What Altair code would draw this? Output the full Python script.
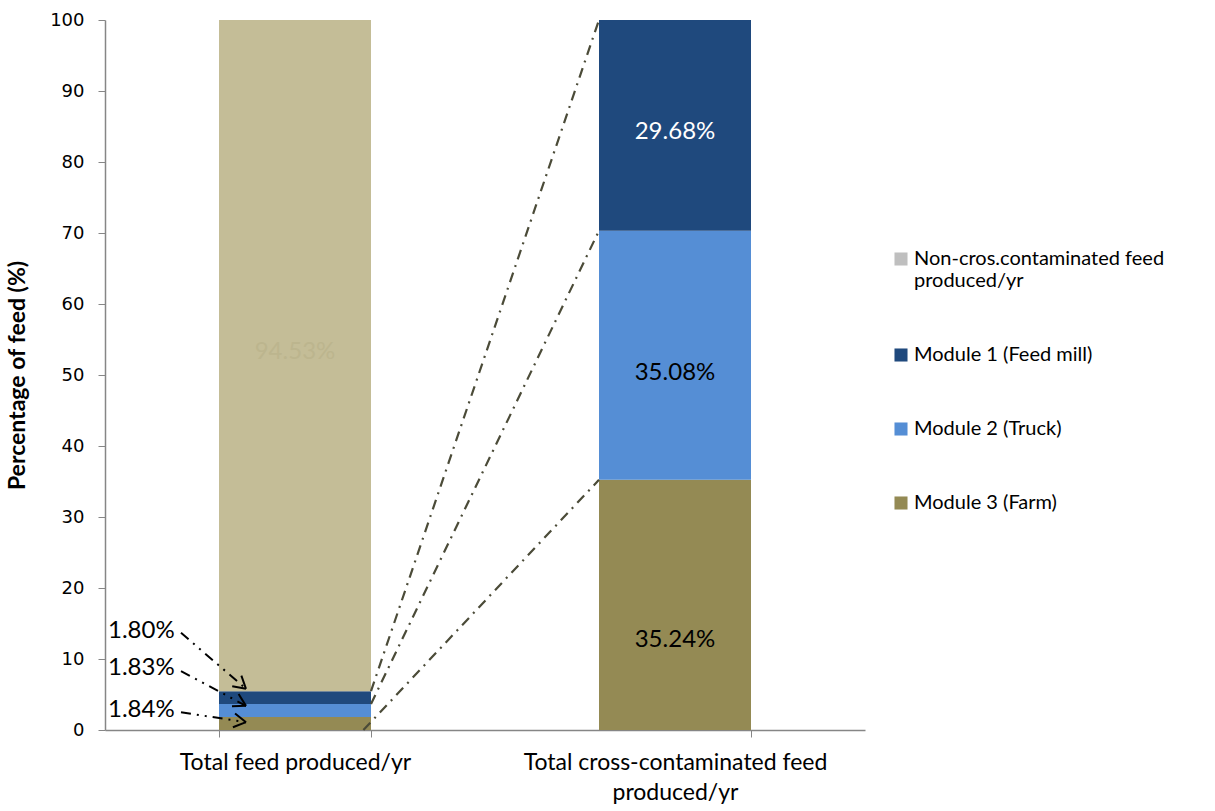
import altair as alt
import pandas as pd
import numpy as np

# ---------------- data ----------------
categories = ["Total feed produced/yr", "Total cross-contaminated feed produced/yr"]
series = ["Non-cros.contaminated feed produced/yr", "Module 1 (Feed mill)",
          "Module 2 (Truck)", "Module 3 (Farm)"]
total_feed = [94.53, 1.80, 1.83, 1.84]
cross_feed = [0.0, 29.68, 35.08, 35.24]
stack_rank = [3, 2, 1, 0]          # 0 = bottom of the stack
legend_colors = ["#BFBFBF", "#1F497D", "#558ED5", "#948A54"]
noncros_bar_color = "#C4BD97"
label_colors = ["#BCB58E", "#FFFFFF", "#000000", "#000000"]

# where the in-bar value labels sit (% units)
total_label_pos = [53.2, None, None, None]
cross_label_pos = [None, 84.2, 50.3, 12.7]

# annotations for the small left-bar segments
ann_text = ["1.80%", "1.83%", "1.84%"]
ann_text_x = [0.008, 0.008, 0.008]
ann_text_y = [13.9, 8.7, 2.8]
ann_start_x = [0.20, 0.20, 0.20]
ann_start_y = [13.7, 8.3, 2.5]
ann_tip_x = [0.371, 0.371, 0.371]
ann_tip_y = [5.8, 3.4, 1.1]

# bridge lines between the two bars
bridge_from_x = [0.68, 0.70, 0.70]
bridge_from_y = [0.0, 3.67, 5.47]
bridge_to_x = [1.30, 1.30, 1.30]
bridge_to_y = [35.24, 70.32, 100.0]

W, H = 760, 710
PX_X, PX_Y = W / 2.0, H / 100.0

# ---------------- tables ----------------
rows, label_rows = [], []
for cat, vals, lpos in zip(categories, [total_feed, cross_feed],
                           [total_label_pos, cross_label_pos]):
    base = 0.0
    for i in sorted(range(len(series)), key=lambda k: stack_rank[k]):
        v = vals[i]
        if v > 0:
            rows.append(dict(cat=cat, series=series[i], value=v, y0=base, y1=base + v))
        if lpos[i] is not None:
            label_rows.append(dict(cat=cat, pos=lpos[i], label=f"{v:.2f}%",
                                   lcolor=label_colors[i]))
        base += v
bars = pd.DataFrame(rows)
labels = pd.DataFrame(label_rows)

bridge_rows = []
for k in range(len(bridge_from_x)):
    bridge_rows.append(dict(g=k, o=0, x=bridge_from_x[k], y=bridge_from_y[k]))
    bridge_rows.append(dict(g=k, o=1, x=bridge_to_x[k], y=bridge_to_y[k]))
bridge = pd.DataFrame(bridge_rows)

leader_rows, head_rows = [], []
for k in range(len(ann_text)):
    leader_rows.append(dict(g=k, o=0, x=ann_start_x[k], y=ann_start_y[k]))
    leader_rows.append(dict(g=k, o=1, x=ann_tip_x[k], y=ann_tip_y[k]))
    dx = (ann_tip_x[k] - ann_start_x[k]) * PX_X
    dy = (ann_tip_y[k] - ann_start_y[k]) * PX_Y
    n = np.hypot(dx, dy)
    bx, by = -dx / n, -dy / n
    L = 14
    for j, ang in enumerate([np.pi / 6, -np.pi / 6]):
        wx = np.cos(ang) * bx - np.sin(ang) * by
        wy = np.sin(ang) * bx + np.cos(ang) * by
        head_rows.append(dict(g=k * 2 + j, o=0, x=ann_tip_x[k] + wx * L / PX_X,
                              y=ann_tip_y[k] + wy * L / PX_Y))
        head_rows.append(dict(g=k * 2 + j, o=1, x=ann_tip_x[k], y=ann_tip_y[k]))
leader = pd.DataFrame(leader_rows)
heads = pd.DataFrame(head_rows)
ann = pd.DataFrame(dict(text=ann_text, x=ann_text_x, y=ann_text_y))

# ---------------- chart ----------------
band_scale = alt.Scale(paddingInner=0.6, paddingOuter=0.3)
xband = alt.X("cat:N", sort=categories, title=None, scale=band_scale,
              axis=alt.Axis(labelAngle=0, tickBand="extent", domainColor="#868686",
                            tickColor="#868686", tickSize=7, domainWidth=1.5,
                            labelFont="Lato", labelFontSize=23, labelColor="#000000",
                            labelPadding=14, labelLineHeight=30, labelLimit=500,
                            grid=False,
                            labelExpr="datum.label == 'Total cross-contaminated feed produced/yr' ? ['Total cross-contaminated feed', 'produced/yr'] : datum.label"))
yq = alt.Y("y0:Q", scale=alt.Scale(domain=[0, 100], nice=False),
           axis=alt.Axis(title="Percentage of feed (%)", values=list(range(0, 101, 10)),
                         grid=False, domainColor="#868686", tickColor="#868686",
                         tickSize=7, domainWidth=1.5, labelFont="DejaVu Sans",
                         labelFontSize=18, labelColor="#000000", labelPadding=14,
                         titleFont="Lato", titleFontSize=23, titleFontWeight="bold",
                         titleColor="#000000", titlePadding=20))

bar_layer = alt.Chart(bars).mark_bar(size=152).encode(
    x=xband,
    y=yq,
    y2="y1:Q",
    fill=alt.condition(
        alt.datum.series == series[0],
        alt.value(noncros_bar_color),
        alt.Fill("series:N", sort=series,
                 scale=alt.Scale(domain=series, range=legend_colors),
                 legend=alt.Legend(title=None, orient="none", legendX=786, legendY=229,
                                   symbolType="square", symbolSize=170,
                                   symbolStrokeWidth=0, labelFont="Lato",
                                   labelFontSize=20, labelColor="#000000",
                                   labelLimit=400, rowPadding=54, labelOffset=3,
                                   labelExpr="datum.label == 'Non-cros.contaminated feed produced/yr' ? ['Non-cros.contaminated feed', 'produced/yr'] : datum.label")),
    ),
)

text_layer = alt.Chart(labels).mark_text(font="Lato", fontSize=24).encode(
    x=alt.X("cat:N", sort=categories),
    y=alt.Y("pos:Q"),
    text="label:N",
    color=alt.Color("lcolor:N", scale=None),
)

bars_and_labels = alt.layer(bar_layer, text_layer)

xq = alt.X("x:Q", scale=alt.Scale(domain=[0, 2], nice=False, zero=False), axis=None)
yq2 = alt.Y("y:Q")

bridge_layer = alt.Chart(bridge).mark_line(color="#4B4B38", strokeWidth=2.2,
                                           strokeDash=[10, 6, 2, 6]).encode(
    x=xq, y=yq2, detail="g:N", order="o:Q")
leader_layer = alt.Chart(leader).mark_line(color="#000000", strokeWidth=2,
                                           strokeDash=[10, 6, 2, 6, 2, 6]).encode(
    x=xq, y=yq2, detail="g:N", order="o:Q")
head_layer = alt.Chart(heads).mark_line(color="#000000", strokeWidth=2).encode(
    x=xq, y=yq2, detail="g:N", order="o:Q")
ann_layer = alt.Chart(ann).mark_text(font="Lato", fontSize=24, align="left",
                                     baseline="middle", color="#000000").encode(
    x=xq, y=yq2, text="text:N")

overlay = alt.layer(bridge_layer, leader_layer, head_layer, ann_layer)

chart = alt.layer(bars_and_labels, overlay).resolve_scale(x="independent").properties(
    width=W, height=H, background="#FFFFFF",
    padding={"left": 6, "top": 11, "right": 5, "bottom": 5},
).configure_view(stroke=None).configure_axis(grid=False)

chart.save("out.html", embed_options={"renderer": "svg", "actions": False})
